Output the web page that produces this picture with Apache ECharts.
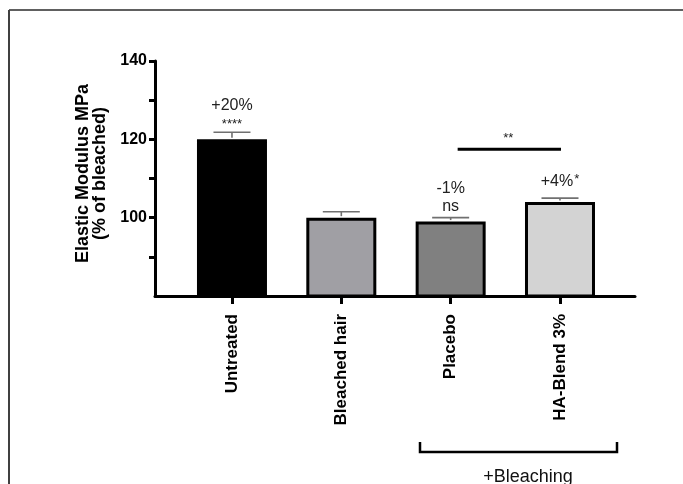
<!DOCTYPE html>
<html>
<head>
<meta charset="utf-8">
<script src="https://cdn.jsdelivr.net/npm/echarts@6/dist/echarts.min.js"></script>
<style>
  html, body { margin: 0; padding: 0; background: #fff; }
  #chart { width: 683px; height: 484px; }
</style>
</head>
<body>
<div id="chart"></div>
<script>
// Elastic modulus of hair fibres, expressed as % of bleached hair
const categories = ['Untreated', 'Bleached hair', 'Placebo', 'HA-Blend 3%'];
const means = [120, 100, 99, 104];
const sem = [1.8, 1.5, 1.0, 1.0];
const barColors = ['#000000', '#a09fa4', '#808080', '#d3d3d3'];
const changeLabels = ['+20%', '', '-1%', '+4%'];
const sigLabels = ['****', '', 'ns', '*'];
const sigInline = [false, false, false, true];
const yLabelTicks = [100, 120, 140];
const yTicks = [90, 100, 110, 120, 130, 140];
const pairFrom = 2, pairTo = 3, pairLevel = 117.5, pairLabel = '**';
const groupLabel = '+Bleaching';

const FONT = '"Liberation Sans", Arial, Helvetica, sans-serif';
const chart = echarts.init(document.getElementById('chart'));

const catIdx = categories.map((c, i) => i);

chart.setOption({
  animation: false,
  backgroundColor: '#ffffff',
  grid: { left: 155, right: 48, top: 61, bottom: 188, outerBoundsMode: 'none' },
  xAxis: {
    type: 'value',
    min: -0.704,
    max: 3.686,
    splitLine: { show: false },
    axisLine: { show: true, onZero: false, lineStyle: { color: '#000', width: 3 } },
    axisTick: { show: true, customValues: catIdx, length: 8, lineStyle: { color: '#000', width: 3 } },
    axisLabel: {
      show: true,
      customValues: catIdx,
      rotate: 90,
      margin: 18,
      formatter: v => categories[Math.round(v)],
      color: '#000',
      fontFamily: FONT,
      fontWeight: 'bold',
      fontSize: 17
    }
  },
  yAxis: {
    type: 'value',
    min: 80,
    max: 140,
    interval: 10,
    splitLine: { show: false },
    axisLine: { show: true, onZero: false, lineStyle: { color: '#000', width: 3 } },
    axisTick: { show: true, customValues: yTicks, length: 6, lineStyle: { color: '#000', width: 3 } },
    axisLabel: {
      customValues: yLabelTicks,
      margin: 8,
      color: '#000',
      fontFamily: FONT,
      fontWeight: 'bold',
      fontSize: 16
    },
    name: 'Elastic Modulus MPa\n(% of bleached)',
    nameLocation: 'middle',
    nameGap: 46,
    nameTextStyle: {
      color: '#000',
      fontFamily: FONT,
      fontWeight: 'bold',
      fontSize: 18,
      lineHeight: 17,
      padding: [0, 0, 0, 10]
    }
  },
  series: [
    {
      type: 'bar',
      barWidth: 70,
      z: 2,
      data: means.map((v, i) => ({ value: [i, v], itemStyle: { color: barColors[i] } })),
      itemStyle: { borderColor: '#000', borderWidth: 3 }
    },
    {
      // upper error bars (SEM)
      type: 'custom',
      z: 3,
      data: means.map((m, i) => [i, m, m + sem[i]]),
      renderItem: (params, api) => {
        const base = api.coord([api.value(0), api.value(1)]);
        const top = api.coord([api.value(0), api.value(2)]);
        const st = { stroke: '#707070', lineWidth: 1.6 };
        return {
          type: 'group',
          children: [
            { type: 'line', shape: { x1: top[0], y1: base[1] - 1.5, x2: top[0], y2: top[1] }, style: st },
            { type: 'line', shape: { x1: top[0] - 18.5, y1: top[1], x2: top[0] + 18.5, y2: top[1] }, style: st }
          ]
        };
      }
    },
    {
      // percent change and significance annotations above each bar
      type: 'custom',
      z: 4,
      data: means.map((m, i) => [i, m + sem[i]]),
      renderItem: (params, api) => {
        const i = params.dataIndex;
        const p = api.coord([api.value(0), api.value(1)]);
        const children = [];
        if (sigInline[i]) {
          children.push({
            type: 'text',
            x: p[0], y: p[1] - 16,
            style: {
              text: '{a|' + changeLabels[i] + '}{b|' + sigLabels[i] + '}',
              align: 'center', verticalAlign: 'middle',
              rich: {
                a: { fontFamily: FONT, fontSize: 16, fill: '#222' },
                b: { fontFamily: FONT, fontSize: 13, fill: '#222', padding: [0, 0, 6, 1] }
              }
            }
          });
        } else if (changeLabels[i]) {
          const small = sigLabels[i].indexOf('*') >= 0;
          children.push({
            type: 'text', x: p[0], y: p[1] - (small ? 8 : 11),
            style: { text: sigLabels[i], align: 'center', verticalAlign: 'middle',
                     fontFamily: FONT, fontSize: small ? 13 : 16, fill: '#222' }
          });
          children.push({
            type: 'text', x: p[0], y: p[1] - (small ? 27 : 29),
            style: { text: changeLabels[i], align: 'center', verticalAlign: 'middle',
                     fontFamily: FONT, fontSize: 16, fill: '#222' }
          });
        }
        return { type: 'group', children };
      }
    },
    {
      // pairwise comparison: Placebo vs HA-Blend 3%
      type: 'custom',
      z: 4,
      data: [[pairFrom, pairTo, pairLevel]],
      renderItem: (params, api) => {
        const a = api.coord([api.value(0), api.value(2)]);
        const b = api.coord([api.value(1), api.value(2)]);
        return {
          type: 'group',
          children: [
            { type: 'line', shape: { x1: a[0] + 7, y1: a[1], x2: b[0] + 1, y2: b[1] },
              style: { stroke: '#000', lineWidth: 3 } },
            { type: 'text', x: (a[0] + b[0]) / 2 + 3, y: a[1] - 11,
              style: { text: pairLabel, align: 'center', verticalAlign: 'middle',
                       fontFamily: FONT, fontSize: 13, fill: '#222' } }
          ]
        };
      }
    }
  ],
  graphic: [
    // outer frame
    { type: 'line', shape: { x1: 9, y1: 10, x2: 683, y2: 10 }, style: { stroke: '#606060', lineWidth: 2 } },
    { type: 'line', shape: { x1: 9, y1: 10, x2: 9, y2: 484 }, style: { stroke: '#404040', lineWidth: 2 } },
    // group bracket beneath the treated samples
    { type: 'polyline', shape: { points: [[420, 442], [420, 452], [617, 452], [617, 442]] },
      style: { stroke: '#000', lineWidth: 2.5, fill: null } },
    { type: 'text', x: 528, y: 477,
      style: { text: groupLabel, align: 'center', verticalAlign: 'middle',
               fontFamily: FONT, fontSize: 18, fill: '#111' } }
  ]
});
</script>
</body>
</html>
